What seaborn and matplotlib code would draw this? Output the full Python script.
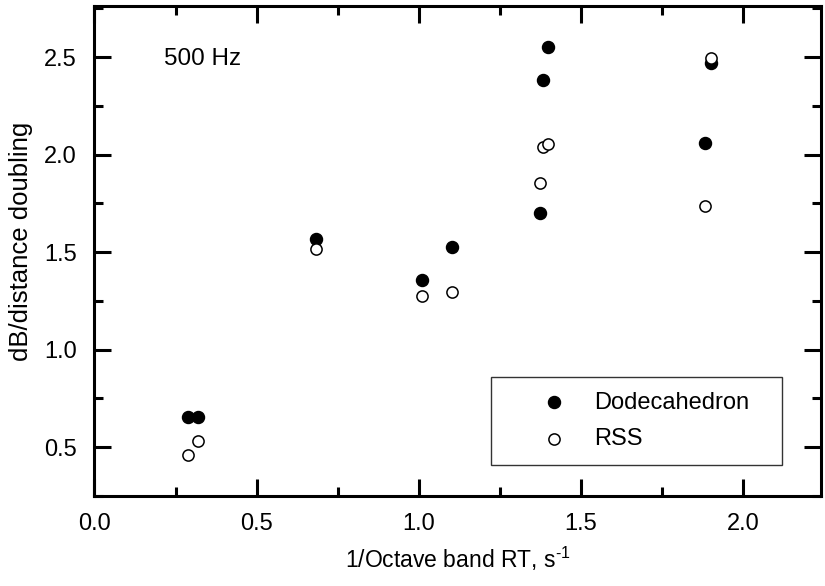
import matplotlib
matplotlib.use("Agg")
import matplotlib.pyplot as plt
import seaborn as sns
import pandas as pd
from matplotlib.ticker import MultipleLocator, FormatStrFormatter

x_vals = [0.289, 0.319, 0.683, 1.011, 1.101, 1.373, 1.384, 1.399, 1.882, 1.902]
dodeca = [0.653, 0.653, 1.566, 1.358, 1.525, 1.701, 2.383, 2.552, 2.062, 2.469]
rss = [0.459, 0.531, 1.515, 1.278, 1.298, 1.853, 2.037, 2.054, 1.738, 2.498]
series_names = ["Dodecahedron", "RSS"]
annotation = "500 Hz"
xlabel = r"1/Octave band RT, s$^{\text{-1}}$"
ylabel = "dB/distance doubling"

sns.set_style("ticks")
plt.rcParams["font.family"] = ["Liberation Sans", "DejaVu Sans"]
plt.rcParams["mathtext.fontset"] = "custom"
plt.rcParams["mathtext.rm"] = "Liberation Sans"
plt.rcParams["mathtext.it"] = "Liberation Sans"
for k in ["text.color", "axes.labelcolor", "xtick.color", "ytick.color",
          "xtick.labelcolor", "ytick.labelcolor"]:
    plt.rcParams[k] = "black"

df_d = pd.DataFrame({"x": x_vals, "y": dodeca})
df_r = pd.DataFrame({"x": x_vals, "y": rss})

fig = plt.figure(figsize=(8.25, 5.86), dpi=100)
ax = fig.add_axes([0.1145, 0.1536, 0.8806, 0.837])

sns.scatterplot(data=df_d, x="x", y="y", ax=ax, marker="o", s=75,
                color="black", edgecolor="black", linewidth=1,
                label=series_names[0], zorder=3)
sns.scatterplot(data=df_r, x="x", y="y", ax=ax, marker="o", s=65,
                facecolor="white", edgecolor="black", linewidth=1.1,
                label=series_names[1], zorder=4)

ax.set_xlim(0, 2.24)
ax.set_ylim(0.25, 2.765)
ax.xaxis.set_major_locator(MultipleLocator(0.5))
ax.xaxis.set_minor_locator(MultipleLocator(0.25))
ax.yaxis.set_major_locator(MultipleLocator(0.5))
ax.yaxis.set_minor_locator(MultipleLocator(0.25))
ax.xaxis.set_major_formatter(FormatStrFormatter("%.1f"))
ax.yaxis.set_major_formatter(FormatStrFormatter("%.1f"))

for s in ax.spines.values():
    s.set_visible(True)
    s.set_linewidth(2.2)
    s.set_color("black")

ax.tick_params(which="both", direction="in", top=True, right=True,
               width=2.2, color="black", labelsize=17)
ax.tick_params(axis="x", which="both", pad=12)
ax.tick_params(axis="y", which="both", pad=12.5)
ax.tick_params(which="major", length=12.5)
ax.tick_params(which="minor", length=6.5)

ax.set_xlabel(xlabel, fontsize=16.5)
ax.set_ylabel(ylabel, fontsize=18.5)
ax.xaxis.set_label_coords(0.5, -0.10)
ax.yaxis.set_label_coords(-0.084, 0.52)

ax.text(0.215, 2.49, annotation, fontsize=17.5, va="center", ha="left")

leg = ax.legend(loc="upper left", bbox_to_anchor=(0.5458, 0.0, 0.4006, 0.2426),
                mode="expand", frameon=True, fancybox=False, fontsize=17,
                handletextpad=-0.37, borderpad=0.62, labelspacing=0.61,
                borderaxespad=0, handlelength=4.13)
leg.get_frame().set_edgecolor("black")
leg.get_frame().set_linewidth(1.0)

fig.savefig("out.png", dpi=100)
